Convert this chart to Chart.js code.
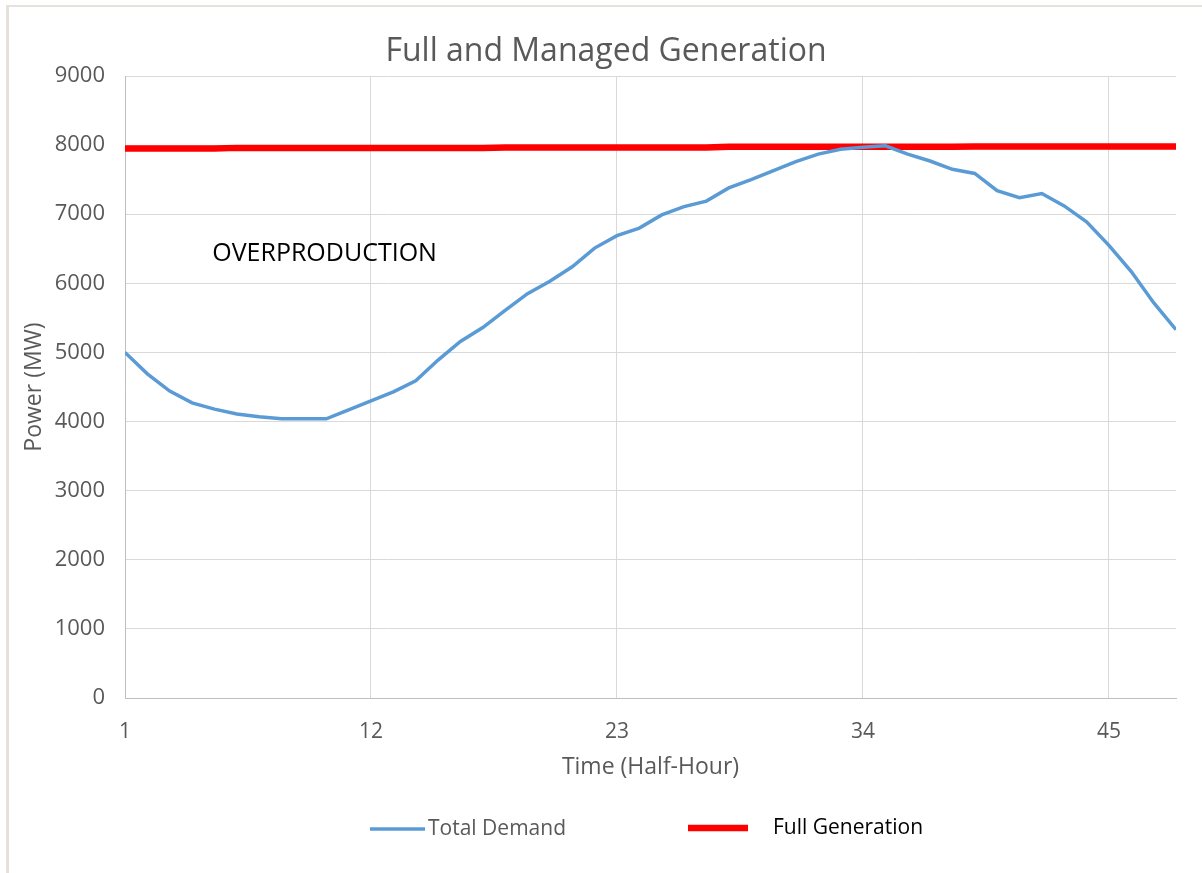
<!DOCTYPE html>
<html>
<head>
<meta charset="utf-8">
<script src="https://cdn.jsdelivr.net/npm/chart.js@4/dist/chart.umd.min.js"></script>
<style>
  body { margin: 0; background: #fff; }
  #wrap { position: relative; width: 1202px; height: 873px; }
  #frame { position: absolute; left: 6px; top: 5px; right: 0; bottom: 0;
           border-top: 2px solid #e4e2da; border-left: 3px solid #e4e2da; }
  #chart { position: absolute; left: 0; top: 0; }
</style>
</head>
<body>
<div id="wrap">
  <div id="frame"></div>
  <canvas id="chart" width="1202" height="873"></canvas>
</div>
<script>
// data
const halfHours = [1, 2, 3, 4, 5, 6, 7, 8, 9, 10, 11, 12, 13, 14, 15, 16, 17, 18, 19, 20, 21, 22, 23, 24,
    25, 26, 27, 28, 29, 30, 31, 32, 33, 34, 35, 36, 37, 38, 39, 40, 41, 42, 43, 44, 45, 46, 47, 48];
const totalDemand = [5000, 4690, 4440, 4270, 4180, 4110, 4070, 4040, 4040, 4040, 4170, 4300,
    4430, 4590, 4890, 5160, 5360, 5610, 5850, 6030, 6240, 6510, 6690, 6800,
    6990, 7110, 7190, 7380, 7500, 7630, 7760, 7870, 7940, 7970, 7990, 7870,
    7770, 7650, 7590, 7340, 7240, 7300, 7120, 6890, 6550, 6170, 5720, 5330];
const fullGeneration = [7950, 7950, 7950, 7950, 7950, 7960, 7960, 7960, 7960, 7960, 7960, 7960,
    7960, 7960, 7960, 7960, 7960, 7965, 7965, 7965, 7965, 7965, 7965, 7965,
    7965, 7965, 7965, 7975, 7975, 7975, 7975, 7975, 7975, 7975, 7975, 7975,
    7975, 7975, 7980, 7980, 7980, 7980, 7980, 7980, 7980, 7980, 7980, 7980];
const xTickLabels = [1, 12, 23, 34, 45];
const yTickLabels = [0, 1000, 2000, 3000, 4000, 5000, 6000, 7000, 8000, 9000];
const chartTitle = 'Full and Managed Generation';
const note = { text: 'OVERPRODUCTION', x: 4.9, y: 6420 };

const FONT = "'Open Sans', sans-serif";
const GREY = '#595959';

// title, centred a bit right of the plot like the original
const titlePlugin = {
    id: 'topTitle',
    afterDraw(chart) {
        const ctx = chart.ctx;
        ctx.save();
        ctx.font = '32px ' + FONT;
        ctx.fillStyle = GREY;
        ctx.textAlign = 'center';
        ctx.textBaseline = 'middle';
        ctx.fillText(chartTitle, 606, 52);
        ctx.restore();
    }
};

// text label inside the plot
const notePlugin = {
    id: 'note',
    afterDatasetsDraw(chart) {
        const ctx = chart.ctx;
        const px = chart.scales.x.getPixelForValue(note.x);
        const py = chart.scales.y.getPixelForValue(note.y);
        ctx.save();
        ctx.font = '25px ' + FONT;
        ctx.fillStyle = '#000';
        ctx.textAlign = 'left';
        ctx.textBaseline = 'middle';
        ctx.fillText(note.text, px, py);
        ctx.restore();
    }
};

// legend under the axis title
const legendPlugin = {
    id: 'customLegend',
    afterDraw(chart) {
        const ctx = chart.ctx;
        const items = [
            { x: 370, len: 55, textX: 428, y: 829, color: GREY },
            { x: 688, len: 60, textX: 773, y: 828, color: '#000' }
        ];
        ctx.save();
        chart.data.datasets.forEach((ds, i) => {
            const it = items[i];
            ctx.strokeStyle = ds.borderColor;
            ctx.lineWidth = ds.borderWidth;
            ctx.beginPath();
            ctx.moveTo(it.x, it.y);
            ctx.lineTo(it.x + it.len, it.y);
            ctx.stroke();
            ctx.font = '21px ' + FONT;
            ctx.fillStyle = it.color;
            ctx.textAlign = 'left';
            ctx.textBaseline = 'middle';
            ctx.fillText(ds.label, it.textX, it.y);
        });
        ctx.restore();
    }
};

const ctx = document.getElementById('chart').getContext('2d');
const chart = new Chart(ctx, {
    type: 'line',
    data: {
        labels: halfHours,
        datasets: [{
            label: 'Total Demand',
            data: halfHours.map((h, i) => ({ x: h, y: totalDemand[i] })),
            borderColor: '#5b9bd5',
            borderWidth: 3.5,
            pointRadius: 0,
            tension: 0
        }, {
            label: 'Full Generation',
            data: halfHours.map((h, i) => ({ x: h, y: fullGeneration[i] })),
            borderColor: '#ff0000',
            borderWidth: 6.5,
            pointRadius: 0,
            tension: 0
        }]
    },
    options: {
        responsive: false,
        animation: false,
        layout: { padding: { left: 0, right: 26, top: 76, bottom: 0 } },
        plugins: {
            legend: { display: false },
            tooltip: { enabled: false },
            title: { display: false }
        },
        scales: {
            x: {
                type: 'linear',
                min: 1,
                max: 48,
                afterBuildTicks: scale => { scale.ticks = xTickLabels.map(v => ({ value: v })); },
                afterFit: scale => { scale.height = 175; },
                grid: { color: '#d9d9d9', drawTicks: false },
                border: { color: '#bfbfbf' },
                ticks: { color: GREY, font: { family: FONT, size: 21 }, padding: 21, maxRotation: 0,
                         callback: v => String(v) },
                title: {
                    display: true,
                    text: 'Time (Half-Hour)',
                    color: GREY,
                    font: { family: FONT, size: 23 },
                    padding: { top: 0, bottom: 92 }
                }
            },
            y: {
                min: 0,
                max: 9000,
                afterBuildTicks: scale => { scale.ticks = yTickLabels.map(v => ({ value: v })); },
                afterFit: scale => { scale.width = 125; },
                grid: { color: '#d9d9d9', drawTicks: false },
                border: { color: '#bfbfbf' },
                ticks: { color: GREY, font: { family: FONT, size: 22 }, padding: 20,
                         callback: v => String(v) },
                title: {
                    display: true,
                    text: 'Power (MW)',
                    color: GREY,
                    font: { family: FONT, size: 23 },
                    padding: { top: 21, bottom: 0 }
                }
            }
        }
    },
    plugins: [titlePlugin, notePlugin, legendPlugin]
});
</script>
</body>
</html>
